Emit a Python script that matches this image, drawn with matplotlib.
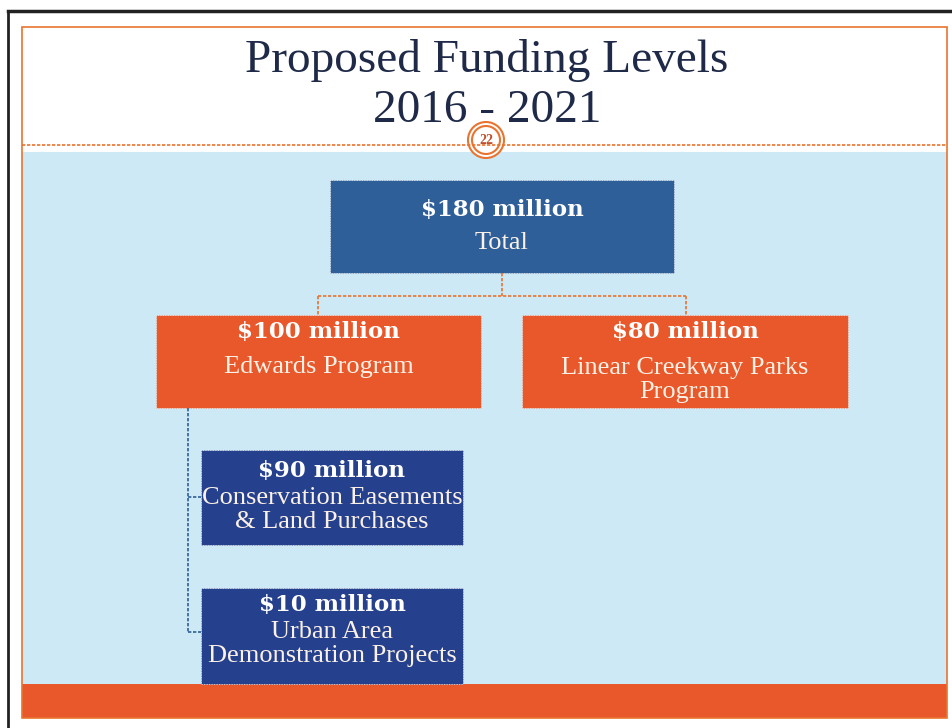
import matplotlib.pyplot as plt
from matplotlib.patches import Rectangle, Circle

# chart content
title_lines = ["Proposed Funding Levels", "2016 - 2021"]
slide_number = "22"
amounts = ["$180 million", "$100 million", "$80 million", "$90 million", "$10 million"]
labels = ["Total", "Edwards Program", "Linear Creekway Parks\nProgram",
          "Conservation Easements\n& Land Purchases", "Urban Area\nDemonstration Projects"]

# layout (pixel coordinates, y grows downwards)
boxes = [(330, 180, 344, 93), (156, 315, 325, 93), (522, 315, 326, 93),
         (201, 450, 262, 95), (201, 588, 262, 96)]
amount_dy = [30, 17, 17, 21, 17]
label_dy = [63, 52, 65, 60, 56]
box_colors = ["#2f5f98", "#e8582a", "#e8582a", "#25408d", "#25408d"]

W, H = 953, 728
fig = plt.figure(figsize=(W / 100, H / 100), dpi=100)
ax = fig.add_axes([0, 0, 1, 1])
ax.set_xlim(0, W)
ax.set_ylim(H, 0)
ax.axis('off')
fig.patch.set_facecolor('white')

serif = ['Liberation Serif', 'DejaVu Serif']
bold_serif = ['DejaVu Serif']
orange = '#e8742f'

# black scan border
ax.plot([8, 953], [11, 11], color='#222222', lw=2.5)
ax.plot([8.5, 8.5], [11, 728], color='#222222', lw=2)

# background panels
ax.add_patch(Rectangle((22, 152), 925, 532, facecolor='#cde9f5', edgecolor='none'))
ax.add_patch(Rectangle((22, 684), 925, 34, facecolor='#e8582a', edgecolor='none'))
ax.add_patch(Rectangle((22, 27), 925, 691, facecolor='none', edgecolor=orange, lw=1.2))

# title
ax.text(487, 60, title_lines[0], ha='center', va='center', fontsize=34,
        color='#1f2a48', family=serif)
ax.text(487, 111, title_lines[1], ha='center', va='center', fontsize=34,
        color='#1f2a48', family=serif)

# header rule and slide number circle
ax.plot([22, 947], [145, 145], color=orange, lw=1.2, ls=(0, (2, 1)))
ax.add_patch(Circle((486, 140), 18, facecolor='white', edgecolor=orange, lw=1.5))
ax.add_patch(Circle((486, 140), 14, facecolor='white', edgecolor=orange, lw=1.5))
ax.text(486, 140, slide_number, ha='center', va='center', fontsize=10,
        color='#c0502a', family=serif, fontweight='bold')

# connectors
dot_o = dict(color='#e8742f', lw=1.2, ls=(0, (2, 1)))
ax.plot([502, 502], [273, 296], **dot_o)
ax.plot([318, 686], [296, 296], **dot_o)
ax.plot([318, 318], [296, 315], **dot_o)
ax.plot([686, 686], [296, 315], **dot_o)
dot_b = dict(color='#2f5f98', lw=1.2, ls=(0, (2, 1)))
ax.plot([188, 188], [408, 632], **dot_b)
ax.plot([188, 201], [497, 497], **dot_b)
ax.plot([188, 201], [632, 632], **dot_b)

# boxes
for (x, y, w, h), col, amt, lab, ady, ldy in zip(boxes, box_colors, amounts, labels,
                                                amount_dy, label_dy):
    ax.add_patch(Rectangle((x, y), w, h, facecolor=col, edgecolor='#f0f0f0',
                           lw=0.6, ls=(0, (1, 1))))
    cx = x + w / 2
    ax.text(cx, y + ady, amt, ha='center', va='center', fontsize=16.5, fontweight='bold',
            color='white', family=bold_serif)
    ax.text(cx, y + ldy, lab, ha='center', va='center', fontsize=19, color='#fbf1e6',
            family=serif, linespacing=1.15)

fig.savefig('out.png', dpi=100)
